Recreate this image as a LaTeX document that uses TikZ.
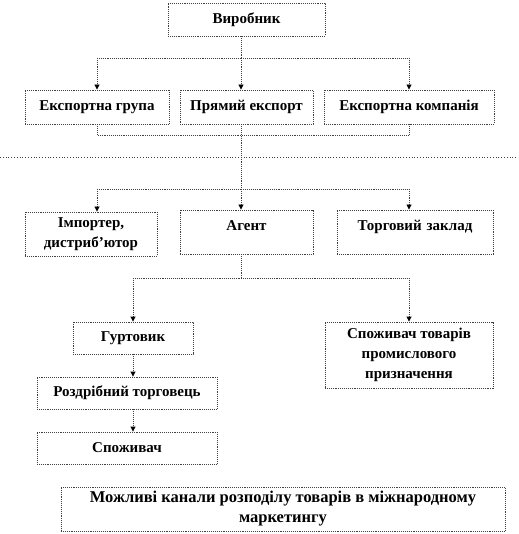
\documentclass[tikz,border=0pt]{standalone}
\usepackage{fontspec}
\setmainfont{Liberation Serif}
\usetikzlibrary{arrows.meta}
\begin{document}
\begin{tikzpicture}[x=1pt,y=-1pt,
  box/.style={draw=black!75, densely dotted, line width=0.9pt, inner sep=0pt, align=center,
    font=\fontsize{15}{20}\selectfont\bfseries},
  conn/.style={draw=black!75, densely dotted, line width=0.9pt},
  arr/.style={conn, -{Triangle[width=5pt,length=5pt,black]}},
]
\useasboundingbox (0,0) rectangle (518,534);
% nodes
\node[box, minimum width=157, minimum height=33] (vyr) at (246.5,19.5) {Виробник};
\node[box, minimum width=144, minimum height=34] (eg) at (97,107) {Експортна група};
\node[box, minimum width=133, minimum height=34] (pe) at (246.5,107) {Прямий експорт};
\node[box, minimum width=170, minimum height=34] (ek) at (409,107) {Експортна компанія};
\node[box, minimum width=132, minimum height=44] (imp) at (91,234) {Імпортер,\\дистриб’ютор};
\node[box, text width=133, text height=20, text depth=24] (ag) at (246.5,232) {Агент};
\node[box, text width=156, text height=20, text depth=24] (tz) at (415,232) {Торговий заклад};
\node[box, minimum width=120, minimum height=32] (gu) at (133,338) {Гуртовик};
\node[box, minimum width=180, minimum height=32] (ro) at (127,393) {Роздрібний торговець};
\node[box, minimum width=168, minimum height=66] (spp) at (409,355) {Споживач товарів\\промислового\\призначення};
\node[box, minimum width=180, minimum height=32] (sp) at (127,448) {Споживач};
\node[box, minimum width=444, minimum height=44, font=\fontsize{16.5}{20}\selectfont\bfseries] (cap) at (283,509) {Можливі канали розподілу товарів в міжнародному\\маркетингу};
% coordinates
\coordinate (c) at (241,0);
\coordinate (l1) at (97,58);
\coordinate (m1) at (241,58);
\coordinate (r1) at (409,58);
\coordinate (l2) at (97,135);
\coordinate (r2) at (409,135);
\coordinate (l3) at (97,189);
\coordinate (m3) at (241,189);
\coordinate (r3) at (409,189);
\coordinate (l4) at (133,278);
\coordinate (m4) at (241,278);
\coordinate (r4) at (409,278);
\coordinate (sl) at (0,157);
\coordinate (sr) at (518,157);
% connectors
\draw[conn] (vyr.south -| c) -- (m1);
\draw[conn] (l1) -- (r1);
\draw[arr] (l1) -- (l1 |- eg.north);
\draw[arr] (m1) -- (m1 |- pe.north);
\draw[arr] (r1) -- (r1 |- ek.north);
\draw[conn] (l2 |- eg.south) -- (l2) -- (r2) -- (r2 |- ek.south);
\draw[conn] (pe.south -| c) -- (m3);
\draw[draw=black!75, dotted, line width=0.8pt] (sl) -- (sr);
\draw[conn] (l3) -- (r3);
\draw[arr] (l3) -- (l3 |- imp.north);
\draw[arr] (m3) -- (m3 |- ag.north);
\draw[arr] (r3) -- (r3 |- tz.north);
\draw[conn] (ag.south -| c) -- (m4);
\draw[conn] (l4) -- (r4);
\draw[arr] (l4) -- (l4 |- gu.north);
\draw[arr] (r4) -- (r4 |- spp.north);
\draw[arr] (gu.south -| l4) -- (l4 |- ro.north);
\draw[arr] (ro.south -| l4) -- (l4 |- sp.north);
\end{tikzpicture}
\end{document}
